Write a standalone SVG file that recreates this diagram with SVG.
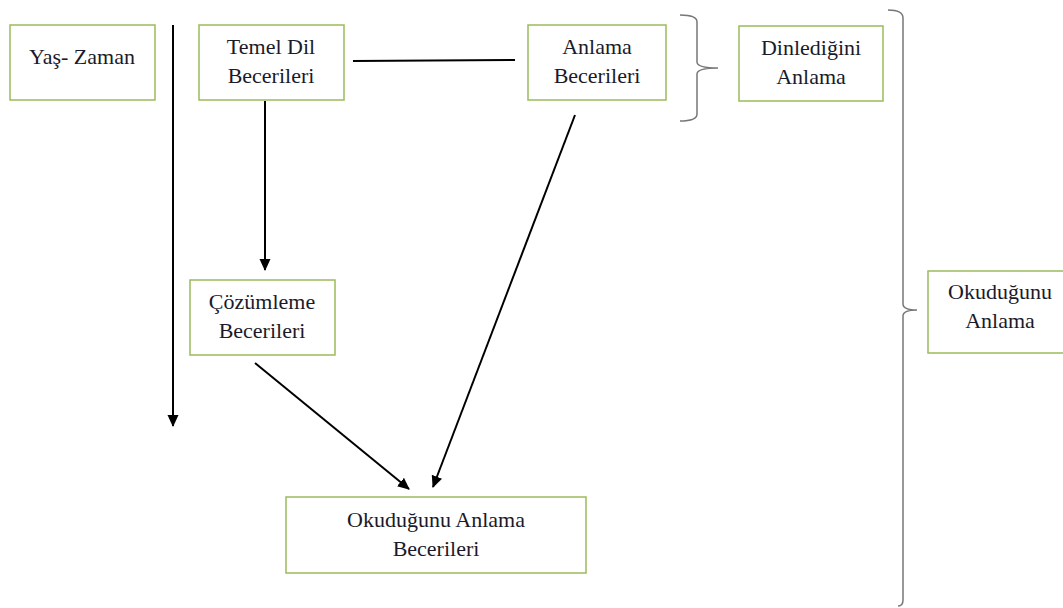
<svg xmlns="http://www.w3.org/2000/svg" width="1063" height="608" viewBox="0 0 1063 608">
<style>
.box{fill:#fff;stroke:#9bbb59;stroke-width:1.5}
.t{font-family:'Liberation Serif','DejaVu Serif','Times New Roman',serif;font-size:22px;fill:#1a1a2a;text-anchor:middle}
.c{stroke:#000;stroke-width:2;fill:none}
.br{stroke:#777;stroke-width:1.5;fill:none}
</style>
<defs>
<marker id="ah" markerWidth="12" markerHeight="12" refX="11" refY="5.5" orient="auto" markerUnits="userSpaceOnUse">
<path d="M0,0 L12,5.5 L0,11 Z" fill="#000"/>
</marker>
</defs>
<rect width="1063" height="608" fill="#fff"/>
<g id="connectors">
<line class="c" x1="173" y1="25" x2="173" y2="426" marker-end="url(#ah)"/>
<line class="c" x1="353" y1="61" x2="515" y2="60"/>
<line class="c" x1="265" y1="101" x2="265" y2="270" marker-end="url(#ah)"/>
<line class="c" x1="255" y1="363" x2="409" y2="489" marker-end="url(#ah)"/>
<line class="c" x1="575" y1="115" x2="433" y2="487" marker-end="url(#ah)"/>
<path class="br" d="M680,15 Q697,15 697,22 L697,62 Q697,68 718,68 Q697,68 697,74 L697,114 Q697,121 680,121"/>
<path class="br" d="M888,10 Q903,10 903,18 L903,304 Q903,310 917,310 Q903,310 903,316 L903,600 Q903,606 898,606"/>
</g>
<g id="yas-zaman">
<rect class="box" x="10" y="25" width="145" height="75"/>
<text class="t" x="82" y="64">Yaş- Zaman</text>
</g>
<g id="temel-dil">
<rect class="box" x="199" y="25" width="145" height="75"/>
<text class="t" x="271" y="54">Temel Dil</text>
<text class="t" x="271" y="83">Becerileri</text>
</g>
<g id="anlama">
<rect class="box" x="528" y="25" width="138" height="75"/>
<text class="t" x="597" y="54">Anlama</text>
<text class="t" x="597" y="83">Becerileri</text>
</g>
<g id="dinledigini">
<rect class="box" x="739" y="26" width="144" height="75"/>
<text class="t" x="811" y="55">Dinlediğini</text>
<text class="t" x="811" y="84">Anlama</text>
</g>
<g id="okudugunu-anlama">
<rect class="box" x="928" y="271" width="140" height="82"/>
<text class="t" x="1000" y="299">Okuduğunu</text>
<text class="t" x="1000" y="328">Anlama</text>
</g>
<g id="cozumleme">
<rect class="box" x="190" y="280" width="145" height="75"/>
<text class="t" x="262" y="309">Çözümleme</text>
<text class="t" x="262" y="338">Becerileri</text>
</g>
<g id="okudugunu-anlama-becerileri">
<rect class="box" x="286" y="497" width="300" height="76"/>
<text class="t" x="436" y="527">Okuduğunu Anlama</text>
<text class="t" x="436" y="556">Becerileri</text>
</g>
</svg>
